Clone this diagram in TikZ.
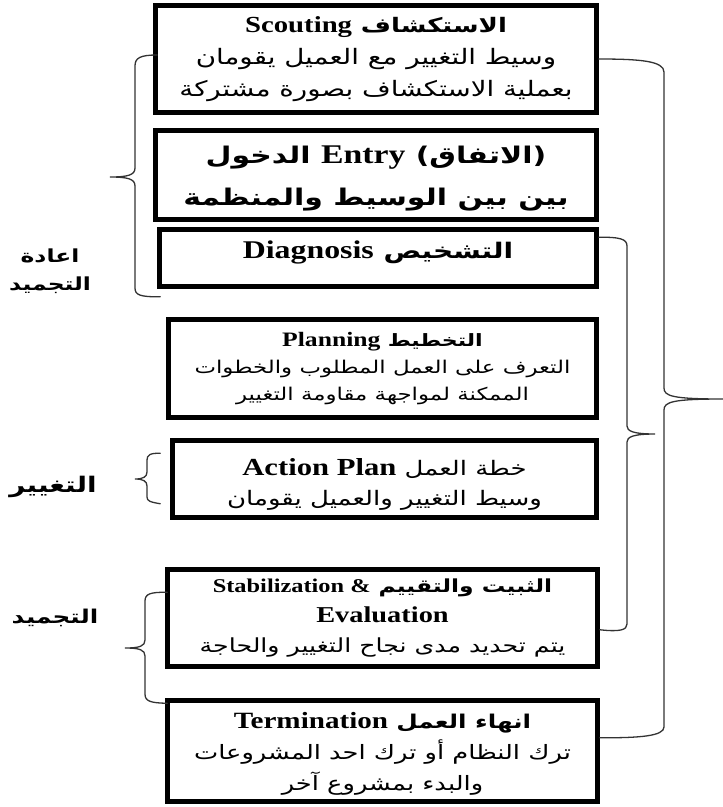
\documentclass[tikz,border=0pt]{standalone}
\usepackage{fontspec}
\usetikzlibrary{calc}
\TeXXeTstate=1
\newfontfamily\arfont[Script=Arabic, FakeStretch=1.3]{DejaVu Sans}
\newfontfamily\latfont[FakeStretch=1.25]{Liberation Serif}
% right-to-left line, embedded bold Latin words (size given), Arabic run at a size
\newcommand\rl[1]{\beginR #1\endR}
\newcommand\en[2]{\beginL{\latfont\bfseries\fontsize{#1}{\baselineskip}\selectfont #2}\endL}
\newcommand\arsz[2]{{\fontsize{#1}{\baselineskip}\selectfont #2}}
\definecolor{bracegray}{HTML}{333333}

\begin{document}
\begin{tikzpicture}[x=1pt,y=-1pt,
  stage/.style={draw=black, line width=4.5pt, rectangle, inner sep=0pt, align=center},
  brace/.style={draw=bracegray, line width=1.3pt, line cap=round},
  sidelabel/.style={align=center}]
\useasboundingbox (0,0) rectangle (723,807);

% the seven stages
\node[stage, minimum width=441pt, minimum height=107pt,
      font=\arfont\fontsize{21.3}{32}\selectfont] (b1) at (376,59)
  {\rl{\arsz{20}{\bfseries الاستكشاف} \en{23}{Scouting}}\\
   \rl{وسيط التغيير مع العميل يقومان}\\
   \rl{بعملية الاستكشاف بصورة مشتركة}};

\node[stage, minimum width=441pt, minimum height=89pt,
      font=\arfont\bfseries\fontsize{23}{42}\selectfont] (b2) at (376,175)
  {\rule{0pt}{24.5pt}\rl{(الاتفاق) \en{27}{Entry} الدخول}\\
   \rl{بين بين الوسيط والمنظمة}};

\node[stage, minimum width=437pt, minimum height=57pt,
      font=\arfont\bfseries\fontsize{21.5}{30}\selectfont] (b3) at (378,258)
  {\rule[-16pt]{0pt}{16pt}\rl{التشخيص \en{25.5}{Diagnosis}}};

\node[stage, minimum width=428pt, minimum height=98pt,
      font=\arfont\fontsize{17.6}{27}\selectfont] (b4) at (382.5,368.5)
  {\rl{\arsz{17}{\bfseries التخطيط} \en{20.5}{Planning}}\\
   \rl{التعرف على العمل المطلوب والخطوات}\\
   \rl{الممكنة لمواجهة مقاومة التغيير}};

\node[stage, minimum width=424pt, minimum height=77pt,
      font=\arfont\fontsize{20}{30}\selectfont] (b5) at (384.5,479)
  {\rule{0pt}{28pt}\rl{خطة العمل \en{24.5}{Action Plan}}\\
   \rl{وسيط التغيير والعميل يقومان}};

\node[stage, minimum width=430pt, minimum height=97pt,
      font=\arfont\fontsize{19.4}{30}\selectfont] (b6) at (382.5,618)
  {\rl{\arsz{18}{\bfseries الثبيت والتقييم}\ \en{19.5}{Stabilization \&}}\\
   \en{22.7}{Evaluation}\\
   \rl{يتم تحديد مدى نجاح التغيير والحاجة}};

\node[stage, minimum width=430pt, minimum height=101pt,
      font=\arfont\fontsize{19.8}{31}\selectfont] (b7) at (382.5,751)
  {\rule{0pt}{21pt}\rl{\arsz{19}{\bfseries انهاء العمل} \en{23.3}{Termination}}\\
   \rl{ترك النظام أو ترك احد المشروعات}\\
   \rl{والبدء بمشروع آخر}};

% phase labels
\node[sidelabel, font=\arfont\bfseries\fontsize{18}{28}\selectfont] (l1) at (50,271) {اعادة\\التجميد};
\node[sidelabel, font=\arfont\bfseries\fontsize{21.5}{24}\selectfont] (l2) at (53,487) {التغيير};
\node[sidelabel, font=\arfont\bfseries\fontsize{19}{24}\selectfont] (l3) at (55,618) {التجميد};

% brace tips
\coordinate (t0) at (723,399);
\coordinate (t1) at (655,434);
\coordinate (t2) at (110,177);
\coordinate (t3) at (135,479);
\coordinate (t4) at (125,648);

% outer brace on the right: all stages
\draw[brace] (b1.east) .. controls (640,59) and (664,61) .. (664,72)
  -- (664,388) .. controls (664,396) and (672,399) .. (t0)
  .. controls (672,399) and (664,402) .. (664,410)
  -- (664,727) .. controls (664,736) and (640,738) .. ($(b7.south east)+(0,-66)$);

% inner brace on the right: diagnosis to evaluation
\draw[brace] ($(b3.north east)+(0,10)$) .. controls (620,237) and (627,239) .. (627,246)
  -- (627,426) .. controls (627,431) and (633,434) .. (t1)
  .. controls (633,434) and (627,437) .. (627,442)
  -- (627,624) .. controls (627,630) and (620,632) .. ($(b6.south east)+(0,-39)$);

% left braces
\draw[brace] ($(b1.west)+(4,-4)$) .. controls (140,55) and (135,58) .. (135,66)
  -- (135,168) .. controls (135,175) and (128,177) .. (t2)
  .. controls (128,177) and (135,179) .. (135,186)
  -- (135,288) .. controls (135,295) and (140,297) .. ($(b3.south west)+(3,8)$);

\draw[brace] ($(b5.north west)+(-10,15)$) .. controls (150,453) and (147,455) .. (147,460)
  -- (147,472) .. controls (147,477) and (143,479) .. (t3)
  .. controls (143,479) and (147,481) .. (147,486)
  -- (147,497) .. controls (147,501) and (150,502) .. ($(b5.south west)+(-10,-16)$);

\draw[brace] ($(b6.north west)+(2,25)$) .. controls (150,592) and (145,594) .. (145,601)
  -- (145,640) .. controls (145,646) and (140,648) .. (t4)
  .. controls (140,648) and (145,650) .. (145,656)
  -- (145,694) .. controls (145,701) and (150,703) .. ($(b7.north west)+(2,5)$);
\end{tikzpicture}
\end{document}
